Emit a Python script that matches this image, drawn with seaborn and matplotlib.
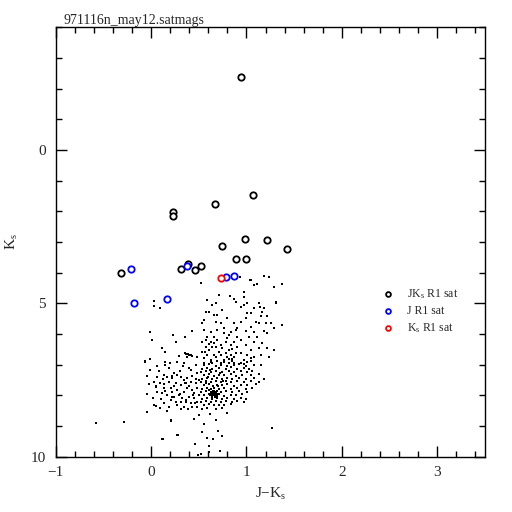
import matplotlib
matplotlib.use("Agg")
import matplotlib.pyplot as plt
import seaborn as sns
import pandas as pd
from matplotlib.ticker import MultipleLocator, FixedLocator

# ---------------- data (J-Ks, Ks) ----------------
title = "971116n_may12.satmags"

jk_sat_x = [0.938, 1.067, 0.668, 0.234, 0.227, 0.983, 1.218, 0.742, 1.421, 0.886,
            0.994, -0.319, 0.308, 0.385, 0.465, 0.518]
jk_sat_y = [-2.38, 1.48, 1.77, 2.02, 2.14, 2.90, 2.93, 3.13, 3.24, 3.56,
            3.56, 4.00, 3.87, 3.73, 3.93, 3.77]

j_sat_x = [-0.214, 0.378, 0.788, 0.868, 0.164, -0.179]
j_sat_y = [3.87, 3.80, 4.15, 4.11, 4.86, 4.99]

k_sat_x = [0.728]
k_sat_y = [4.18]

# faint field stars, upper sparse part
upper_field = [
    (0.518, 4.35), (0.931, 4.13), (1.183, 4.10), (1.236, 4.13), (1.376, 4.38), (1.050, 4.24),
    (1.078, 4.39), (1.113, 4.38), (0.973, 4.62), (0.710, 4.73), (0.973, 4.78), (0.868, 4.86),
    (0.588, 4.89), (0.676, 5.00), (0.641, 5.05), (0.886, 4.95), (1.008, 5.00), (0.973, 5.05),
    (1.131, 5.00), (1.306, 4.98), (1.141, 5.11), (1.183, 5.16), (0.938, 5.11), (1.078, 5.14),
    (0.746, 5.22), (0.571, 5.27), (0.606, 5.30), (0.658, 5.38), (0.693, 5.38), (1.008, 5.33),
    (1.043, 5.33), (0.991, 5.49), (1.166, 5.27), (1.155, 5.43), (1.218, 5.43), (1.253, 5.65),
    (1.200, 5.63), (1.376, 5.71), (1.288, 5.82), (0.553, 5.54), (0.536, 5.65), (0.676, 5.60),
    (0.798, 5.49), (0.728, 5.63), (0.868, 5.65), (0.938, 5.60), (1.096, 5.60), (1.131, 5.65),
    (1.043, 5.76), (0.903, 5.82), (0.763, 5.82), (0.693, 5.87), (0.623, 5.92), (0.833, 5.92),
    (0.886, 5.87), (0.991, 5.90), (1.078, 5.92), (1.183, 5.90), (1.218, 5.98), (0.553, 5.87),
    (0.588, 6.09), (0.658, 6.09), (0.763, 5.98), (0.816, 6.03), (0.903, 6.09), (1.026, 6.09),
    (1.113, 6.09), (0.536, 6.25), (0.623, 6.25), (0.693, 6.20), (0.781, 6.25), (0.868, 6.25),
    (0.938, 6.20), (0.991, 6.36), (1.078, 6.25), (1.166, 6.30), (0.571, 6.41), (0.606, 6.52),
    (0.676, 6.41), (0.746, 6.47), (0.816, 6.52), (0.851, 6.50), (0.903, 6.41), (1.043, 6.52),
    (1.131, 6.47), (1.218, 6.47), (1.288, 6.52), (1.236, 6.74), (1.148, 6.69), (1.078, 6.74),
    (1.008, 6.69), (0.938, 6.63), (0.868, 6.76), (0.798, 6.74), (0.728, 6.69), (0.658, 6.69),
    (0.588, 6.69), (0.536, 6.58), (0.553, 6.79), (0.623, 6.85), (0.693, 6.87), (0.763, 6.85),
    (0.851, 6.83), (0.868, 6.93), (0.973, 6.85), (1.043, 6.79), (0.641, 6.96), (0.553, 6.96),
    (0.728, 6.96), (0.816, 6.96), (0.921, 6.98), (0.973, 6.99), (0.571, 6.20), (0.606, 6.33),
    (0.641, 6.43), (0.711, 6.58), (0.781, 6.63), (0.833, 6.36), (0.658, 6.30), (0.728, 6.36),
    (0.798, 6.14), (0.560, 6.58), (0.676, 6.76), (0.816, 6.83), (0.886, 6.63), (0.833, 6.69),
    (0.93, 4.15), (1.04, 4.24), (1.29, 4.48), (0.83, 4.75), (1.306, 4.97),
]

# scattered stars between the saturated ones and the main clump (left side)
left_sparse = [
    (0.028, 4.91), (0.035, 5.09), (0.098, 5.16), (-0.007, 5.92), (0.010, 6.20), (0.231, 6.03),
    (0.256, 6.25), (0.360, 6.09), (0.424, 5.90), (0.116, 6.47), (0.150, 6.58), (-0.060, 6.87),
    (-0.007, 6.83), (0.150, 6.90), (0.273, 6.90), (0.290, 6.72), (0.360, 6.63), (0.378, 6.76),
    (0.413, 6.68), (0.430, 6.72), (0.483, 6.74), (0.39, 6.64), (0.40, 6.70), (0.37, 6.66),
]

# left lobe of the main clump
left_lobe = [
    (-0.060, 6.90), (0.063, 7.06), (0.150, 7.01), (0.273, 6.90), (0.343, 6.96), (0.396, 7.12),
    (0.466, 7.01), (-0.007, 7.17), (-0.042, 7.37), (0.133, 7.34), (0.168, 7.39), (0.221, 7.45),
    (0.273, 7.34), (0.308, 7.39), (0.343, 7.50), (0.378, 7.45), (0.238, 7.28), (0.431, 7.37),
    (0.483, 7.28), (0.028, 7.55), (0.098, 7.61), (0.186, 7.55), (0.256, 7.61), (0.308, 7.66),
    (0.361, 7.61), (0.413, 7.55), (0.466, 7.61), (0.501, 7.50), (0.046, 7.72), (0.133, 7.77),
    (0.203, 7.77), (0.221, 7.88), (0.273, 7.83), (0.343, 7.88), (0.378, 7.77), (0.431, 7.83),
    (0.483, 7.77), (-0.042, 7.96), (0.063, 7.88), (0.116, 7.93), (0.168, 7.99), (0.238, 8.04),
    (0.291, 7.99), (0.326, 8.10), (0.396, 8.04), (0.448, 8.10), (0.501, 7.99), (0.203, 8.15),
    (0.256, 8.21), (0.308, 8.21), (0.361, 8.21), (0.413, 8.26), (0.483, 8.21), (0.028, 8.31),
    (0.046, 8.35), (0.133, 8.26), (0.186, 8.37), (0.343, 8.37), (0.431, 8.37), (0.483, 8.37),
    (-0.042, 8.53), (0.08, 7.20), (0.19, 7.12), (0.30, 7.22), (0.42, 7.18), (0.12, 7.48),
    (0.35, 7.60), (0.05, 7.68), (0.24, 7.70), (0.40, 7.70), (0.15, 7.85), (0.30, 7.95),
    (0.45, 7.92), (0.02, 8.08), (0.10, 8.12), (0.22, 8.05), (0.37, 8.14), (0.46, 8.25),
    (0.27, 8.32), (0.09, 8.40), (0.39, 8.45), (0.17, 8.50), (0.31, 8.46), (0.22, 7.36),
    (0.47, 7.46), (0.06, 7.40), (0.33, 7.05), (0.20, 6.95), (-0.02, 7.62), (0.44, 8.00),
    (0.13, 7.62),
]

# right (dense) lobe of the main clump
right_lobe = [
    (0.623, 6.91), (0.693, 6.88), (0.763, 6.92), (0.851, 6.89), (0.938, 6.93), (1.008, 6.90), (1.043, 6.87),
    (0.553, 7.02), (0.606, 6.99), (0.676, 7.03), (0.728, 7.00), (0.798, 7.04), (0.868, 7.01), (0.921, 6.98),
    (0.991, 7.03), (1.078, 7.00), (1.148, 7.02),
    (0.536, 7.13), (0.588, 7.10), (0.641, 7.14), (0.711, 7.11), (0.781, 7.13), (0.833, 7.09), (0.903, 7.14),
    (0.973, 7.11), (1.026, 7.13),
    (0.518, 7.24), (0.571, 7.21), (0.623, 7.25), (0.676, 7.22), (0.746, 7.24), (0.816, 7.20), (0.868, 7.25),
    (0.938, 7.22), (1.008, 7.24), (1.061, 7.21),
    (0.553, 7.35), (0.606, 7.32), (0.658, 7.36), (0.711, 7.33), (0.763, 7.35), (0.833, 7.32), (0.886, 7.36),
    (0.956, 7.33), (1.043, 7.35), (1.131, 7.32),
    (0.536, 7.46), (0.588, 7.43), (0.641, 7.47), (0.693, 7.44), (0.746, 7.46), (0.798, 7.43), (0.851, 7.47),
    (0.921, 7.44), (0.991, 7.46), (1.078, 7.43), (1.183, 7.46),
    (0.518, 7.56), (0.571, 7.53), (0.623, 7.57), (0.676, 7.54), (0.728, 7.56), (0.781, 7.53), (0.833, 7.57),
    (0.903, 7.54), (0.973, 7.56), (1.043, 7.53), (1.131, 7.56),
    (0.553, 7.67), (0.606, 7.64), (0.651, 7.68), (0.693, 7.65), (0.746, 7.67), (0.798, 7.64), (0.868, 7.68),
    (0.938, 7.65), (1.008, 7.67), (1.096, 7.64),
    (0.536, 7.78), (0.588, 7.75), (0.623, 7.79), (0.658, 7.76), (0.711, 7.78), (0.763, 7.75), (0.833, 7.79),
    (0.903, 7.76), (0.991, 7.78), (1.061, 7.75),
    (0.518, 7.89), (0.571, 7.86), (0.623, 7.90), (0.648, 7.87), (0.665, 7.89), (0.686, 7.86), (0.728, 7.90),
    (0.781, 7.87), (0.851, 7.89), (0.921, 7.86), (1.008, 7.90),
    (0.553, 8.00), (0.606, 7.97), (0.641, 8.01), (0.658, 7.98), (0.676, 8.00), (0.711, 7.97), (0.763, 8.01),
    (0.833, 7.98), (0.886, 8.00), (0.956, 7.97),
    (0.536, 8.11), (0.588, 8.08), (0.641, 8.12), (0.693, 8.09), (0.746, 8.11), (0.798, 8.08), (0.868, 8.12),
    (0.938, 8.09), (0.991, 8.11),
    (0.518, 8.22), (0.571, 8.19), (0.623, 8.23), (0.676, 8.20), (0.728, 8.22), (0.781, 8.19), (0.851, 8.23),
    (0.903, 8.20), (0.973, 8.22),
    (0.553, 8.32), (0.606, 8.29), (0.658, 8.33), (0.711, 8.30), (0.763, 8.32), (0.833, 8.29),
    (0.536, 8.43), (0.588, 8.40), (0.676, 8.44), (0.746, 8.41),
    (0.65, 7.93), (0.66, 7.95), (0.64, 7.91), (0.67, 7.88), (0.65, 7.98), (0.63, 7.95), (0.68, 7.93),
    (0.66, 7.85), (0.62, 8.00), (0.69, 8.02), (0.61, 7.83), (0.70, 7.95), (0.64, 8.05), (0.67, 8.06),
    (0.60, 7.40), (0.72, 7.28), (0.58, 7.60), (0.70, 7.70), (0.62, 7.18), (0.75, 7.52),
]

# stragglers below the clump
lower_field = [
    (-0.578, 8.89), (-0.288, 8.87), (1.271, 9.08), (0.210, 8.83), (0.448, 8.78), (0.675, 8.80),
    (0.122, 9.43), (0.280, 9.29), (0.535, 9.18), (0.700, 9.15), (0.588, 9.40), (0.650, 9.43),
    (0.746, 9.32), (0.458, 9.59), (0.605, 9.65), (0.490, 9.94), (0.605, 9.84), (0.720, 9.81),
    (0.528, 9.91), (0.203, 8.80), (0.116, 9.43), (0.273, 9.30), (0.55, 8.95), (0.62, 8.62),
    (0.80, 8.58), (0.50, 8.63),
]

# ---------------- assemble ----------------
field = pd.DataFrame(upper_field + left_sparse + left_lobe + right_lobe + lower_field,
                     columns=["jk", "ks"])
jk_df = pd.DataFrame({"jk": jk_sat_x, "ks": jk_sat_y})
j_df = pd.DataFrame({"jk": j_sat_x, "ks": j_sat_y})
k_df = pd.DataFrame({"jk": k_sat_x, "ks": k_sat_y})

sns.set_style("ticks")
plt.rcParams["font.family"] = ["Liberation Serif", "DejaVu Serif"]
plt.rcParams["mathtext.fontset"] = "custom"
plt.rcParams["mathtext.rm"] = "Liberation Serif"
plt.rcParams["mathtext.it"] = "Liberation Serif"
plt.rcParams["axes.unicode_minus"] = True

fig = plt.figure(figsize=(5.12, 5.12), dpi=100)
ax = fig.add_axes([0.109, 0.108, 0.838, 0.839])

sns.scatterplot(data=field, x="jk", y="ks", ax=ax, marker="s", s=0.6,
                color="black", linewidth=0, legend=False)

mk = dict(marker="o", s=21, facecolor="white", linewidth=1.3, zorder=5)
sns.scatterplot(data=jk_df, x="jk", y="ks", ax=ax, edgecolor="black",
                label=r"JK$_\mathrm{s}$ R1 sat", **mk)
sns.scatterplot(data=j_df, x="jk", y="ks", ax=ax, edgecolor="#0000ff",
                label="J R1 sat", **mk)
sns.scatterplot(data=k_df, x="jk", y="ks", ax=ax, edgecolor="#ff0000",
                label=r"K$_\mathrm{s}$ R1 sat", **mk)

ax.set_xlim(-1, 3.5)
ax.set_ylim(10, -4)
ax.xaxis.set_major_locator(FixedLocator([-1, 0, 1, 2, 3]))
ax.xaxis.set_minor_locator(MultipleLocator(0.2))
ax.yaxis.set_major_locator(FixedLocator([0, 5, 10]))
ax.yaxis.set_minor_locator(MultipleLocator(1))

for sp in ax.spines.values():
    sp.set_visible(True)
    sp.set_linewidth(1.0)
    sp.set_color("black")
ax.tick_params(which="both", direction="in", top=True, right=True,
               bottom=True, left=True, color="black", width=1.0)
ax.tick_params(which="major", length=8, labelsize=11, pad=7)
ax.tick_params(which="minor", length=4.3)

ax.set_xlabel(r"J$-$K$_\mathrm{s}$", fontsize=11, labelpad=5)
ax.set_ylabel(r"K$_\mathrm{s}$", fontsize=11, labelpad=8)

fig.text(0.125, 0.953, title, fontsize=10, ha="left", va="baseline")

leg = ax.legend(loc="upper left", bbox_to_anchor=(0.735, 0.405), frameon=False,
                fontsize=8.5, handletextpad=0.6, labelspacing=0.35,
                markerscale=0.75, borderaxespad=0)

fig.savefig("out.png", dpi=100, facecolor="white")
